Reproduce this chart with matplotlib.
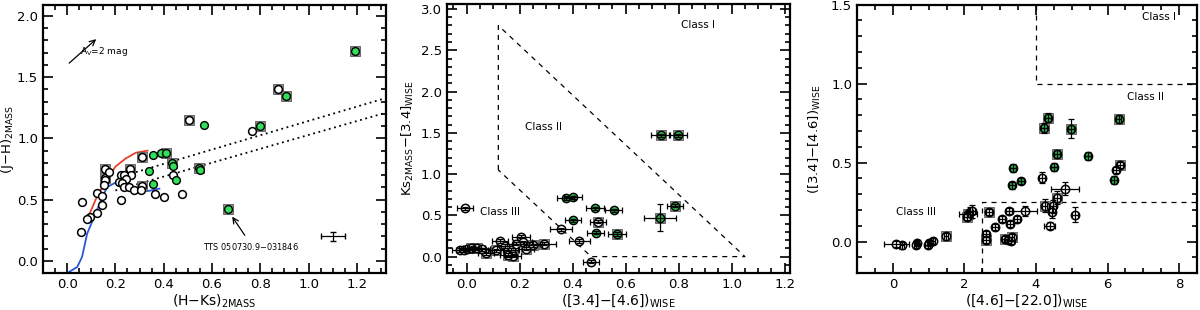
import numpy as np
import matplotlib.pyplot as plt
from matplotlib.ticker import MultipleLocator

# ---- panel 1: 2MASS colour-colour ----
p1_green_x = [1.19, 0.905, 0.565, 0.80, 0.39, 0.41, 0.355, 0.34, 0.355, 0.435, 0.44, 0.45, 0.545, 0.55, 0.665]
p1_green_y = [1.71, 1.35, 1.11, 1.10, 0.885, 0.88, 0.865, 0.73, 0.625, 0.80, 0.775, 0.66, 0.76, 0.74, 0.42]
p1_green_sq = [1, 1, 0, 1, 0, 1, 0, 0, 0, 1, 0, 0, 1, 0, 1]

p1_open_x = [0.875, 0.505, 0.765, 0.31, 0.156, 0.156, 0.158, 0.174, 0.261, 0.264, 0.222, 0.235, 0.243,
             0.215, 0.229, 0.235, 0.257, 0.278, 0.31, 0.306, 0.365, 0.403, 0.477, 0.4375, 0.222, 0.153,
             0.125, 0.146, 0.146, 0.125, 0.06, 0.093, 0.083, 0.056]
p1_open_y = [1.40, 1.15, 1.06, 0.85, 0.747, 0.674, 0.66, 0.728, 0.747, 0.70, 0.70, 0.70, 0.665,
             0.645, 0.633, 0.605, 0.605, 0.578, 0.61, 0.578, 0.55, 0.523, 0.545, 0.70, 0.50, 0.62,
             0.556, 0.53, 0.455, 0.387, 0.48, 0.355, 0.338, 0.237]
p1_open_sq = [1, 1, 0, 1, 1, 1, 0, 0, 1, 0, 0, 0, 0,
              0, 0, 0, 0, 0, 1, 0, 0, 0, 0, 0, 0, 0,
              0, 0, 0, 0, 0, 0, 0, 0]

# intrinsic loci
giant_x = [0.079, 0.118, 0.146, 0.173, 0.20, 0.243, 0.284, 0.333]
giant_y = [0.32, 0.50, 0.605, 0.687, 0.77, 0.837, 0.883, 0.90]
dwarf_x = [-0.05, 0.0, 0.042, 0.062, 0.083, 0.118, 0.146, 0.167, 0.20, 0.229, 0.27, 0.298, 0.34, 0.382]
dwarf_y = [-0.10, -0.10, -0.05, 0.033, 0.223, 0.387, 0.523, 0.605, 0.638, 0.632, 0.59, 0.564, 0.572, 0.59]

# CTTS locus band (dotted)
ctts_upper_x = [0.285, 1.32]
ctts_upper_y = [0.725, 1.33]
ctts_lower_x = [0.20, 1.32]
ctts_lower_y = [0.575, 1.21]

av_arrow = [0.0, 1.60, 0.129, 1.826]
tts_arrow = [0.742, 0.19, 0.677, 0.38]
typ_err = [1.1, 0.2, 0.05, 0.035]

# ---- panel 2: Ks-[3.4] vs [3.4]-[4.6] ----
p2_green_x = [0.732, 0.798, 0.785, 0.731, 0.568, 0.374, 0.402, 0.484, 0.555, 0.402, 0.487]
p2_green_y = [1.47, 1.47, 0.615, 0.47, 0.275, 0.71, 0.72, 0.585, 0.56, 0.44, 0.29]
p2_green_sq = [1, 1, 1, 1, 1, 0, 0, 0, 0, 0, 0]
p2_green_xe = [0.035, 0.035, 0.03, 0.061, 0.033, 0.033, 0.033, 0.033, 0.033, 0.03, 0.033]
p2_green_ye = [0.02, 0.02, 0.02, 0.165, 0.02, 0.02, 0.02, 0.02, 0.02, 0.02, 0.02]

p2_open_x = [-0.006, 0.496, 0.356, 0.425, 0.469, 0.075, 0.1125, 0.125, 0.169, 0.175, 0.206, 0.212,
             0.225, 0.25, 0.294, 0.144, 0.1875, 0.024, -0.025, -0.01, 0.0, 0.015, 0.04, 0.06, 0.155]
p2_open_y = [0.585, 0.425, 0.33, 0.19, -0.06, 0.04, 0.075, 0.19, 0.08, 0.01, 0.24, 0.175,
             0.095, 0.135, 0.155, 0.13, 0.155, 0.11, 0.08, 0.075, 0.09, 0.10, 0.10, 0.09, 0.02]
p2_open_sq = [0, 1, 0, 0, 0, 1, 1, 0, 0, 1, 0, 0,
              1, 1, 1, 0, 0, 1, 0, 0, 0, 1, 1, 0, 1]
p2_open_xe = [0.03, 0.03, 0.04, 0.04, 0.03, 0.03, 0.03, 0.03, 0.03, 0.03, 0.035, 0.035,
              0.03, 0.035, 0.045, 0.03, 0.035, 0.03, 0.03, 0.03, 0.03, 0.03, 0.03, 0.03, 0.03]
p2_open_ye = [0.02] * 25

p2_class2_x = [0.12, 0.12, 1.05, 0.47, 0.12]
p2_class2_y = [1.05, 2.80, 0.0, 0.0, 1.05]

# ---- panel 3: [3.4]-[4.6] vs [4.6]-[22] ----
p3_green_x = [4.33, 4.23, 4.98, 4.58, 6.31, 3.35, 3.34, 3.58, 4.51, 5.45, 6.18]
p3_green_y = [0.784, 0.719, 0.715, 0.552, 0.774, 0.465, 0.355, 0.383, 0.471, 0.539, 0.387]
p3_green_sq = [1, 1, 1, 1, 1, 0, 0, 0, 0, 0, 0]
p3_green_xe = [0.08] * 11
p3_green_ye = [0.03, 0.03, 0.06, 0.025, 0.025, 0.025, 0.025, 0.02, 0.025, 0.025, 0.025]

p3_open_x = [4.16, 4.80, 6.35, 6.23, 4.58, 4.24, 4.47, 4.45, 5.10, 4.38, 3.69, 3.48, 3.25, 3.27,
             3.06, 2.85, 2.68, 2.61, 2.61, 3.13, 3.22, 3.30, 3.32, 2.10, 2.16, 2.07, 2.22, 1.49,
             1.12, 1.02, 0.97, 0.67, 0.65, 0.25, 0.10]
p3_open_y = [0.404, 0.334, 0.486, 0.455, 0.277, 0.228, 0.222, 0.186, 0.171, 0.101, 0.192, 0.144, 0.192, 0.112,
             0.144, 0.091, 0.186, 0.049, 0.011, 0.017, 0.011, 0.006, 0.027, 0.175, 0.186, 0.154, 0.192, 0.032,
             0.002, -0.011, -0.019, -0.011, -0.019, -0.025, -0.015]
p3_open_sq = [0, 0, 1, 0, 1, 1, 0, 0, 0, 0, 0, 0, 0, 0,
              0, 0, 1, 0, 1, 1, 0, 0, 1, 1, 0, 1, 0, 1,
              0, 0, 0, 0, 0, 0, 0]
p3_open_xe = [0.08, 0.39, 0.08, 0.08, 0.08, 0.08, 0.08, 0.08, 0.08, 0.15, 0.33, 0.08, 0.08, 0.08,
              0.08, 0.08, 0.08, 0.08, 0.08, 0.08, 0.08, 0.08, 0.08, 0.25, 0.08, 0.08, 0.08, 0.06,
              0.06, 0.06, 0.06, 0.06, 0.06, 0.06, 0.35]
p3_open_ye = [0.035, 0.04, 0.02, 0.02, 0.04, 0.04, 0.04, 0.04, 0.05, 0.02, 0.03, 0.02, 0.02, 0.02,
              0.02, 0.02, 0.02, 0.02, 0.02, 0.02, 0.02, 0.02, 0.02, 0.02, 0.03, 0.02, 0.04, 0.02,
              0.02, 0.02, 0.02, 0.02, 0.02, 0.02, 0.02]

p3_class3_x = [2.5, 2.5, 8.5]
p3_class3_y = [-0.2, 0.25, 0.25]
p3_class1_x = [4.0, 4.0, 8.5]
p3_class1_y = [1.5, 1.0, 1.0]

GREEN1 = '#33e05a'
GREEN2 = '#2cb64a'
SQ = '#8e8e8e'


def style_axes(ax, xmaj, xmin, ymaj, ymin):
    for s in ax.spines.values():
        s.set_linewidth(1.6)
    ax.xaxis.set_major_locator(MultipleLocator(xmaj))
    ax.xaxis.set_minor_locator(MultipleLocator(xmin))
    ax.yaxis.set_major_locator(MultipleLocator(ymaj))
    ax.yaxis.set_minor_locator(MultipleLocator(ymin))
    ax.tick_params(which='both', direction='in', top=True, right=True, width=1.2, labelsize=9.5)
    ax.tick_params(which='major', length=7)
    ax.tick_params(which='minor', length=3.5)


def draw_set(ax, x, y, sq, green, ms, sqms, xe=None, ye=None):
    x = np.asarray(x)
    y = np.asarray(y)
    sq = np.asarray(sq, dtype=bool)
    ax.plot(x[sq], y[sq], 's', ms=sqms, mfc=SQ, mec='#5a5a5a', mew=0.6, zorder=3)
    if green is None:
        ax.plot(x, y, 'o', ms=ms, mfc='white', mec='black', mew=1.1, zorder=4)
    else:
        ax.plot(x, y, 'o', ms=ms, mfc=green, mec='black', mew=1.0, zorder=4)
    if xe is not None:
        ax.errorbar(x, y, xerr=xe, yerr=ye, fmt='none', ecolor='black', elinewidth=0.9,
                    capsize=2, capthick=0.9, zorder=5)


fig = plt.figure(figsize=(12, 3.1), dpi=100)
ax1 = fig.add_axes([0.0358, 0.119, 0.2858, 0.865])
ax2 = fig.add_axes([0.3722, 0.119, 0.2861, 0.868])
ax3 = fig.add_axes([0.7142, 0.119, 0.2833, 0.866])

# panel 1
ax1.plot(giant_x, giant_y, color='#e8402a', lw=1.3, zorder=2)
ax1.plot(dwarf_x, dwarf_y, color='#2858d8', lw=1.3, zorder=2)
ax1.plot(ctts_upper_x, ctts_upper_y, color='black', lw=1.3, ls=(0, (1, 2)), zorder=2)
ax1.plot(ctts_lower_x, ctts_lower_y, color='black', lw=1.3, ls=(0, (1, 2)), zorder=2)
draw_set(ax1, p1_open_x, p1_open_y, p1_open_sq, None, 5.6, 7.2)
draw_set(ax1, p1_green_x, p1_green_y, p1_green_sq, GREEN1, 5.6, 7.2)
ax1.annotate('', xy=(av_arrow[2], av_arrow[3]), xytext=(av_arrow[0], av_arrow[1]),
             arrowprops=dict(arrowstyle='->', lw=0.9, color='black'))
ax1.text(0.055, 1.66, r'A$_{\rm V}$=2 mag', fontsize=6.5, va='bottom', ha='left')
ax1.annotate('', xy=(tts_arrow[2], tts_arrow[3]), xytext=(tts_arrow[0], tts_arrow[1]),
             arrowprops=dict(arrowstyle='->', lw=0.9, color='black'))
ax1.text(0.762, 0.115, 'TTS 050730.9$-$031846', fontsize=5.9, ha='center', va='center')
ax1.errorbar([typ_err[0]], [typ_err[1]], xerr=[typ_err[2]], yerr=[typ_err[3]], fmt='none',
             ecolor='black', elinewidth=0.9, capsize=2)
ax1.set_xlim(-0.1, 1.32)
ax1.set_ylim(-0.1, 2.09)
style_axes(ax1, 0.2, 0.05, 0.5, 0.1)
ax1.set_xlabel(r'(H$-$Ks)$_{\rm 2MASS}$', fontsize=10, labelpad=1)
ax1.set_ylabel(r'(J$-$H)$_{\rm 2MASS}$', fontsize=9.5)
ax1.yaxis.set_label_coords(-0.08, 0.5)

# panel 2
ax2.plot(p2_class2_x, p2_class2_y, color='black', lw=0.9, ls=(0, (4, 4)), zorder=1)
draw_set(ax2, p2_open_x, p2_open_y, p2_open_sq, None, 6.0, 7.5, p2_open_xe, p2_open_ye)
draw_set(ax2, p2_green_x, p2_green_y, p2_green_sq, GREEN2, 6.0, 7.5, p2_green_xe, p2_green_ye)
ax2.text(0.875, 2.80, 'Class I', fontsize=7.5, ha='center', va='center')
ax2.text(0.29, 1.57, 'Class II', fontsize=7.5, ha='center', va='center')
ax2.text(0.125, 0.54, 'Class III', fontsize=7.5, ha='center', va='center')
ax2.set_xlim(-0.075, 1.22)
ax2.set_ylim(-0.2, 3.06)
style_axes(ax2, 0.2, 0.05, 0.5, 0.1)
ax2.set_xlabel(r'([3.4]$-$[4.6])$_{\rm WISE}$', fontsize=10, labelpad=1)
ax2.set_ylabel(r'Ks$_{\rm 2MASS}$$-$[3.4]$_{\rm WISE}$', fontsize=9.5)
ax2.yaxis.set_label_coords(-0.09, 0.5)

# panel 3
ax3.plot(p3_class3_x, p3_class3_y, color='black', lw=0.9, ls=(0, (4, 4)), zorder=1)
ax3.plot(p3_class1_x, p3_class1_y, color='black', lw=0.9, ls=(0, (4, 4)), zorder=1)
draw_set(ax3, p3_open_x, p3_open_y, p3_open_sq, None, 6.0, 7.5, p3_open_xe, p3_open_ye)
draw_set(ax3, p3_green_x, p3_green_y, p3_green_sq, GREEN2, 6.0, 7.5, p3_green_xe, p3_green_ye)
ax3.text(7.44, 1.42, 'Class I', fontsize=7.5, ha='center', va='center')
ax3.text(7.07, 0.915, 'Class II', fontsize=7.5, ha='center', va='center')
ax3.text(0.65, 0.185, 'Class III', fontsize=7.5, ha='center', va='center')
ax3.set_xlim(-1.0, 8.5)
ax3.set_ylim(-0.2, 1.5)
style_axes(ax3, 2, 0.5, 0.5, 0.1)
ax3.set_xlabel(r'([4.6]$-$[22.0])$_{\rm WISE}$', fontsize=10, labelpad=1)
ax3.set_ylabel(r'([3.4]$-$[4.6])$_{\rm WISE}$', fontsize=9.5)
ax3.yaxis.set_label_coords(-0.1, 0.5)

fig.savefig('out.png', dpi=100)
